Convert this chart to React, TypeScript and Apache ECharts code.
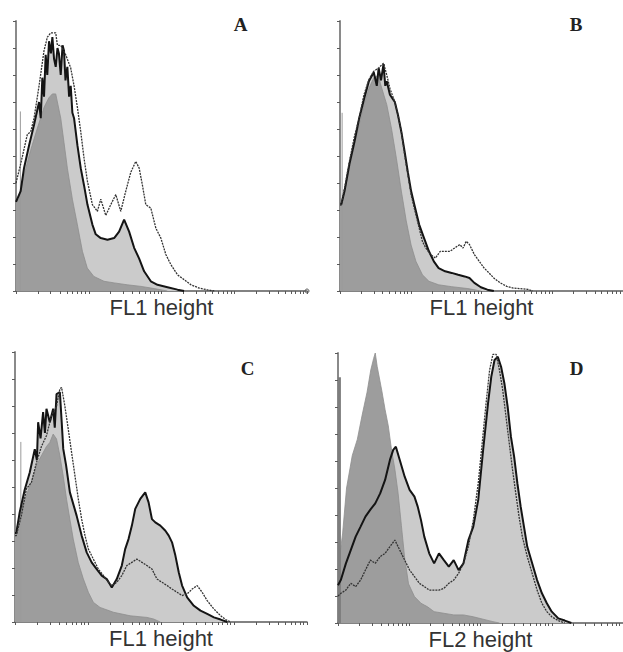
import React, { useEffect, useRef } from "react";
import * as echarts from "echarts";

// x values are in decades of the log fluorescence axis (0..4), y in % of the y-axis height
const panelLetters = ["A", "B", "C", "D"];
const axisNames = ["FL1 height", "FL1 height", "FL1 height", "FL2 height"];

// Panel A
const aControl: [number, number][] = [
  [0, 33], [0.04, 34], [0.11, 43], [0.2, 52], [0.29, 60], [0.385, 68], [0.45, 71.5], [0.5, 73],
  [0.546, 73], [0.615, 64], [0.66, 55], [0.706, 45.5], [0.775, 34], [0.844, 24.5], [0.913, 14.7],
  [0.98, 8.5], [1.07, 5.4], [1.21, 3.6], [1.35, 3], [1.53, 2.3], [1.72, 1.7], [1.9, 0.9], [2.08, 0],
];
const aSample: [number, number][] = [
  [0, 33], [0.064, 37], [0.11, 45.5], [0.18, 54], [0.248, 61.6], [0.317, 70], [0.34, 64], [0.362, 79],
  [0.385, 72], [0.408, 87.5], [0.43, 80], [0.454, 92.5], [0.48, 88], [0.5, 94], [0.523, 86], [0.546, 83],
  [0.57, 90], [0.59, 88], [0.615, 80], [0.64, 91], [0.66, 89], [0.68, 78], [0.706, 83], [0.73, 72],
  [0.752, 76], [0.775, 66], [0.798, 64], [0.844, 54], [0.89, 45.5], [0.936, 39], [0.982, 32], [1.05, 24.6],
  [1.096, 21], [1.165, 19.6], [1.257, 19], [1.349, 19.6], [1.417, 22], [1.486, 26.4], [1.555, 22],
  [1.624, 16], [1.693, 12], [1.761, 7.3], [1.853, 3.6], [1.945, 2.3], [2.083, 1.4], [2.22, 0.5], [2.31, 0],
];
const aOpen: [number, number][] = [
  [0, 40], [0.064, 47], [0.156, 58], [0.202, 59], [0.248, 64], [0.317, 76], [0.385, 89], [0.431, 94],
  [0.477, 95.6], [0.546, 95.6], [0.569, 91], [0.615, 91], [0.683, 87.5], [0.752, 82.6], [0.798, 76],
  [0.844, 68], [0.89, 59], [0.936, 49], [0.982, 40.6], [1.05, 32], [1.119, 29.5], [1.165, 34], [1.234, 28],
  [1.303, 32], [1.372, 35.7], [1.44, 29.5], [1.509, 37], [1.578, 44], [1.647, 48], [1.693, 45.5],
  [1.739, 39], [1.784, 32], [1.853, 30.7], [1.922, 23.3], [1.991, 19.6], [2.06, 13.5], [2.128, 9.8],
  [2.22, 6], [2.312, 4.2], [2.404, 2.3], [2.518, 1.1], [2.633, 0.4], [2.725, 0],
];

// Panel B
const bControl: [number, number][] = [
  [0, 32], [0.018, 32], [0.064, 37], [0.133, 45.5], [0.202, 54], [0.271, 61.6], [0.339, 69], [0.408, 75],
  [0.477, 79], [0.546, 80], [0.569, 77], [0.661, 69], [0.729, 60], [0.798, 49], [0.867, 37], [0.936, 26],
  [1.005, 17], [1.073, 11], [1.165, 6], [1.257, 3.6], [1.394, 2.3], [1.578, 1.6], [1.807, 0.9], [1.991, 0],
];
const bSample: [number, number][] = [
  [0, 32], [0.018, 32], [0.064, 37], [0.133, 47], [0.202, 55], [0.271, 64], [0.339, 71], [0.408, 77.7],
  [0.477, 81], [0.52, 76], [0.546, 82.6], [0.58, 78], [0.615, 84], [0.64, 76], [0.661, 77.7], [0.706, 72.7],
  [0.775, 70], [0.821, 65], [0.867, 59], [0.913, 51.7], [0.959, 44], [1.005, 37], [1.05, 32], [1.119, 24.6],
  [1.188, 19.6], [1.257, 14.7], [1.326, 11], [1.394, 8.5], [1.486, 7.3], [1.578, 6.7], [1.67, 6],
  [1.761, 5.4], [1.83, 4.8], [1.899, 3], [1.991, 1.4], [2.083, 0.5], [2.174, 0],
];
const bOpen: [number, number][] = [
  [0, 32], [0.018, 32], [0.064, 38], [0.133, 48], [0.202, 57], [0.271, 64], [0.339, 72.7], [0.408, 78.3],
  [0.477, 81.4], [0.546, 82.6], [0.615, 84.4], [0.661, 80], [0.706, 75], [0.775, 70], [0.821, 65],
  [0.867, 59], [0.913, 50.5], [0.959, 43], [1.005, 35.7], [1.05, 30.7], [1.119, 23.3], [1.165, 18.4],
  [1.211, 16], [1.28, 13.5], [1.349, 12.2], [1.417, 14.7], [1.486, 14.7], [1.555, 14.7], [1.624, 16],
  [1.693, 17.2], [1.739, 15.9], [1.784, 18.4], [1.83, 17.2], [1.899, 13.5], [1.968, 11], [2.037, 8.5],
  [2.106, 6.7], [2.174, 4.8], [2.266, 3], [2.358, 1.7], [2.45, 1.1], [2.541, 0.9], [2.656, 0.6], [2.725, 0],
];

// Panel C
const cControl: [number, number][] = [
  [0, 34], [0.018, 34], [0.087, 42], [0.156, 47], [0.225, 52], [0.294, 58], [0.362, 61.6], [0.431, 65],
  [0.477, 66.5], [0.523, 69.6], [0.569, 67.8], [0.615, 61.6], [0.661, 54], [0.706, 45.5], [0.752, 38],
  [0.798, 30.7], [0.867, 22], [0.936, 16], [1.005, 11], [1.073, 7.3], [1.165, 5.4], [1.349, 3.6],
  [1.578, 2.3], [1.807, 1.7], [1.899, 1.1], [1.991, 0],
];
const cSample: [number, number][] = [
  [0, 33], [0.018, 33], [0.064, 40.6], [0.133, 49], [0.202, 55.4], [0.271, 64], [0.3, 60], [0.317, 74],
  [0.35, 68], [0.385, 77.7], [0.41, 70], [0.431, 79], [0.477, 74], [0.523, 79], [0.545, 72], [0.569, 84.4],
  [0.615, 85.1], [0.64, 74], [0.661, 64.1], [0.7, 58], [0.752, 48], [0.844, 39.4], [0.913, 32],
  [0.982, 25.8], [1.05, 22.1], [1.119, 19.6], [1.188, 17.2], [1.257, 15.9], [1.326, 12.8], [1.394, 15.9],
  [1.463, 20.9], [1.509, 27], [1.555, 30.7], [1.601, 35.7], [1.647, 41.9], [1.716, 45.6], [1.784, 48],
  [1.83, 44.3], [1.876, 38.1], [1.922, 36.9], [1.991, 35.7], [2.06, 33.8], [2.106, 32], [2.151, 29.5],
  [2.197, 24.6], [2.243, 18.4], [2.289, 13.5], [2.358, 9.1], [2.45, 6], [2.541, 4.2], [2.633, 3],
  [2.725, 1.7], [2.817, 0.9], [2.908, 0],
];
const cOpen: [number, number][] = [
  [0, 32], [0.018, 32], [0.087, 39.4], [0.156, 49.3], [0.225, 51.7], [0.294, 59], [0.362, 65], [0.431, 69],
  [0.5, 76.4], [0.569, 80], [0.615, 86.3], [0.638, 86.9], [0.683, 80], [0.729, 71.5], [0.775, 62.8],
  [0.821, 54.2], [0.867, 45.6], [0.913, 38.1], [0.959, 32], [1.005, 27], [1.073, 23.3], [1.142, 19.6],
  [1.211, 17.2], [1.28, 14.7], [1.326, 13.5], [1.394, 14.7], [1.463, 17.2], [1.532, 20.9], [1.601, 22.1],
  [1.67, 23.3], [1.739, 22.1], [1.807, 20.9], [1.876, 19.6], [1.945, 15.9], [2.014, 14.7], [2.083, 13.5],
  [2.151, 12.2], [2.22, 11], [2.289, 9.8], [2.358, 10.4], [2.427, 12.2], [2.495, 13.5], [2.564, 11],
  [2.633, 7.9], [2.725, 4.8], [2.817, 2.3], [2.885, 0.9], [2.954, 0],
];

// Panel D
const dControl: [number, number][] = [
  [0, 22], [0.03, 26], [0.064, 33], [0.12, 50], [0.2, 62], [0.271, 68], [0.339, 77], [0.408, 85.5],
  [0.46, 93.7], [0.5, 98], [0.523, 100], [0.55, 95], [0.615, 86], [0.661, 79], [0.706, 73], [0.752, 64],
  [0.798, 57], [0.844, 48], [0.89, 36], [0.936, 24], [0.99, 14.5], [1.073, 9.8], [1.165, 7.3], [1.257, 6],
  [1.349, 4.2], [1.486, 3.6], [1.624, 3], [1.761, 3], [1.899, 2.3], [2.037, 1.4], [2.174, 0.5], [2.266, 0],
];
const dSample: [number, number][] = [
  [0, 14], [0.041, 16], [0.11, 22], [0.179, 27], [0.248, 32], [0.317, 35.7], [0.385, 39.4], [0.454, 42],
  [0.523, 44.3], [0.592, 48], [0.661, 53], [0.729, 60.4], [0.775, 64.1], [0.812, 65.3], [0.867, 60.4],
  [0.936, 54.2], [1.005, 49.3], [1.073, 46.8], [1.119, 43.1], [1.165, 38.1], [1.211, 32], [1.28, 25.8],
  [1.349, 22.1], [1.417, 25.8], [1.486, 23.3], [1.555, 20.9], [1.624, 23.3], [1.693, 19.6], [1.761, 22.1],
  [1.83, 30.7], [1.899, 35.7], [1.968, 45.6], [2.037, 64.1], [2.106, 81.4], [2.151, 91.2], [2.197, 97.4],
  [2.243, 98.6], [2.289, 94.9], [2.335, 88.8], [2.381, 80.1], [2.427, 69], [2.472, 61.6], [2.518, 51.7],
  [2.564, 43.1], [2.61, 35.7], [2.656, 28.3], [2.725, 22.1], [2.794, 15.9], [2.862, 11], [2.931, 7.3],
  [3.0, 4.2], [3.092, 1.7], [3.183, 0.9], [3.275, 0],
];
const dOpen: [number, number][] = [
  [0, 10], [0.041, 11], [0.11, 12.2], [0.179, 14.7], [0.248, 13.5], [0.317, 15.9], [0.385, 19.6],
  [0.454, 23.3], [0.523, 22.1], [0.592, 24.6], [0.661, 25.8], [0.729, 28.3], [0.798, 30.7], [0.867, 27],
  [0.936, 23.3], [1.005, 19.6], [1.073, 17.2], [1.142, 14.7], [1.211, 13.5], [1.28, 12.2], [1.349, 12.2],
  [1.417, 12.2], [1.486, 12.8], [1.555, 14.7], [1.624, 15.9], [1.693, 18.4], [1.761, 22.1], [1.83, 28.3],
  [1.899, 38.1], [1.968, 51.7], [2.037, 70.2], [2.083, 82.6], [2.128, 93.7], [2.174, 99.5], [2.22, 99.5],
  [2.266, 93.7], [2.312, 86.3], [2.358, 76.4], [2.404, 66.5], [2.45, 56.7], [2.495, 48], [2.541, 39.4],
  [2.587, 32], [2.656, 24.6], [2.725, 18.4], [2.794, 12.2], [2.862, 7.3], [2.931, 4.2], [3.0, 2.3],
  [3.092, 0.9], [3.183, 0],
];

// first-channel spikes at the left edge of each histogram
const spikeX = [0.06, 0.03, 0.08, 0.02];
const spikeY = [66.5, 66, 66.7, 91];

const controls = [aControl, bControl, cControl, dControl];
const samples = [aSample, bSample, cSample, dSample];
const opens = [aOpen, bOpen, cOpen, dOpen];

// log decade tick marks: 1..9 x 10^d
const xTicks: number[] = [];
for (let d = 0; d < 4; d++) for (let k = 1; k <= 9; k++) xTicks.push(d + Math.log10(k));
xTicks.push(4);

const grids = [
  { left: 16, top: 21, width: 291, height: 270 },
  { left: 340, top: 21, width: 291, height: 270 },
  { left: 15, top: 352, width: 292, height: 270 },
  { left: 338, top: 353, width: 291, height: 270 },
];
const letterPos = [
  [240.5, 24],
  [576, 24],
  [247.5, 368],
  [576.5, 368],
];

export default function App() {
  const ref = useRef<HTMLDivElement>(null);
  useEffect(() => {
    document.body.style.margin = "0";
    const chart = echarts.init(ref.current!, undefined, { renderer: "svg" });
    const series: any[] = [];
    for (let i = 0; i < 4; i++) {
      series.push({
        type: "line", xAxisIndex: i, yAxisIndex: i, data: samples[i], showSymbol: false,
        lineStyle: { width: 0, opacity: 0 }, areaStyle: { color: "#cbcbcb", opacity: 1 }, z: 1, silent: true,
      });
      series.push({
        type: "line", xAxisIndex: i, yAxisIndex: i, data: controls[i], showSymbol: false,
        lineStyle: { width: 0.8, color: "#8e8e8e" }, areaStyle: { color: "#9d9d9d", opacity: 1 }, z: 2, silent: true,
      });
      series.push({
        type: "line", xAxisIndex: i, yAxisIndex: i, data: samples[i], showSymbol: false,
        lineStyle: { width: 2, color: "#141414" }, z: 3, silent: true,
      });
      series.push({
        type: "line", xAxisIndex: i, yAxisIndex: i, data: opens[i], showSymbol: false,
        lineStyle: { width: 1.3, color: "#333", type: [2, 1] }, z: 4, silent: true,
      });
      series.push({
        type: "line", xAxisIndex: i, yAxisIndex: i,
        data: [[spikeX[i], 0], [spikeX[i], spikeY[i]]], showSymbol: false,
        lineStyle: { width: i === 3 ? 3 : 1, color: i === 3 ? "#7d7d7d" : "#9a9a9a" }, z: 2, silent: true,
      });
    }
    chart.setOption({
      animation: false,
      grid: grids.map((g) => ({ ...g, containLabel: false })),
      xAxis: grids.map((_, i) => ({
        type: "value", gridIndex: i, min: 0, max: 4,
        name: axisNames[i], nameLocation: "middle", nameGap: 5,
        nameTextStyle: { fontSize: 22, color: "#333", fontFamily: "Liberation Sans", verticalAlign: "top" },
        axisLine: { show: true, onZero: false, lineStyle: { color: "#5a5a5a", width: 1.5 } },
        axisTick: { show: true, customValues: xTicks, length: 3, lineStyle: { color: "#5a5a5a", width: 1 } },
        axisLabel: { show: false },
        splitLine: { show: false },
      })),
      yAxis: grids.map((_, i) => ({
        type: "value", gridIndex: i, min: 0, max: 100, interval: 10,
        axisLine: { show: true, onZero: false, lineStyle: { color: "#8a8a8a", width: 2 } },
        axisTick: { show: true, length: 3, lineStyle: { color: "#5a5a5a", width: 1 } },
        axisLabel: { show: false },
        splitLine: { show: false },
      })),
      series,
      graphic: [
        ...panelLetters.map((t, i) => ({
          type: "text", x: letterPos[i][0], y: letterPos[i][1], silent: true,
          style: {
            text: t, fontSize: 19, fontWeight: "bold", fontFamily: "Liberation Serif",
            fill: "#222", align: "center", verticalAlign: "middle",
          },
        })),
        {
          type: "circle", shape: { cx: 307, cy: 291, r: 2 }, silent: true,
          style: { fill: "#fff", stroke: "#5a5a5a", lineWidth: 1 },
        },
      ],
    });
    return () => chart.dispose();
  }, []);
  return <div ref={ref} style={{ width: 623, height: 652 }} />;
}
